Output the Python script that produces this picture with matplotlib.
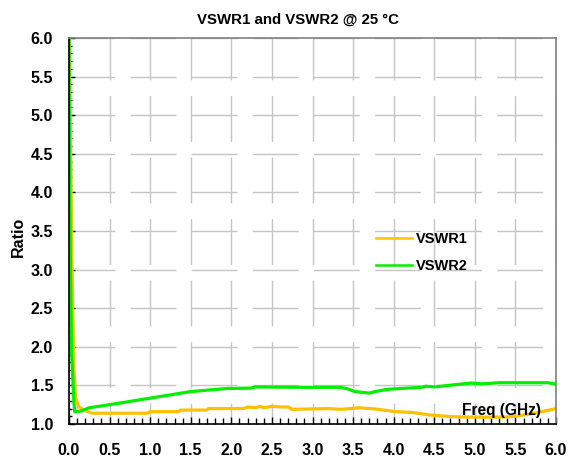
import matplotlib
matplotlib.use('Agg')
import matplotlib.pyplot as plt
from matplotlib.ticker import MultipleLocator
from matplotlib.lines import Line2D

plt.rcParams['font.family'] = ['Liberation Sans', 'DejaVu Sans']
plt.rcParams['font.weight'] = 'bold'
plt.rcParams['lines.scale_dashes'] = False

# VSWR1 (orange)
freq1 = [0.0, 0.02, 0.04, 0.06, 0.08, 0.12, 0.23, 0.29, 0.5, 0.97, 1.0, 1.35, 1.37,
         1.7, 1.72, 2.15, 2.2, 2.3, 2.35, 2.4, 2.45, 2.5, 2.6, 2.7, 2.75, 3.2,
         3.35, 3.58, 3.77, 4.02, 4.22, 4.46, 4.72, 4.95, 5.35, 5.5, 5.74, 6.0]
vswr1 = [6.0, 4.55, 2.83, 1.74, 1.35, 1.22, 1.16, 1.14, 1.14, 1.14, 1.16, 1.16, 1.18,
         1.18, 1.20, 1.20, 1.22, 1.21, 1.23, 1.21, 1.22, 1.23, 1.22, 1.22, 1.19, 1.20,
         1.19, 1.21, 1.195, 1.16, 1.15, 1.115, 1.095, 1.09, 1.09, 1.10, 1.14, 1.20]

# VSWR2 (green)
freq2 = [0.0, 0.01, 0.03, 0.05, 0.06, 0.07, 0.12, 0.25, 0.62, 0.97, 1.5, 1.95, 2.24,
         2.3, 2.94, 3.35, 3.45, 3.52, 3.7, 3.77, 3.93, 4.34, 4.4, 4.5, 4.72, 4.95,
         5.1, 5.3, 5.9, 6.0]
vswr2 = [6.0, 3.81, 1.96, 1.53, 1.29, 1.16, 1.16, 1.21, 1.27, 1.33, 1.42, 1.46, 1.465,
         1.48, 1.475, 1.475, 1.45, 1.42, 1.40, 1.42, 1.45, 1.475, 1.49, 1.48, 1.505, 1.53,
         1.52, 1.535, 1.535, 1.515]

c1 = '#FFC000'
c2 = '#00F000'

fig = plt.figure(figsize=(5.70, 4.59), dpi=100)
ax = fig.add_axes([69 / 570, 1 - 424 / 459, 487 / 570, 386 / 459])

# grid (long dashes, like the original)
ax.set_axisbelow(True)
ax.yaxis.grid(True, color='#c4c4c4', linewidth=1.0, linestyle=(0, (33, 11)))
ax.xaxis.grid(True, color='#c4c4c4', linewidth=1.0, linestyle=(18, (33, 11.3)))

ax.plot(freq1, vswr1, color=c1, linewidth=2.3, solid_joinstyle='miter')
ax.plot(freq2, vswr2, color=c2, linewidth=2.3, solid_joinstyle='miter')

ax.set_xlim(0, 6)
ax.set_ylim(1, 6)
ax.xaxis.set_major_locator(MultipleLocator(0.5))
ax.xaxis.set_minor_locator(MultipleLocator(0.1))
ax.yaxis.set_major_locator(MultipleLocator(0.5))
ax.yaxis.set_minor_locator(MultipleLocator(0.1))
ax.xaxis.set_major_formatter(lambda v, p: f'{v:.1f}')
ax.yaxis.set_major_formatter(lambda v, p: f'{v:.1f}')

ax.tick_params(axis='x', which='major', direction='in', length=5, width=1, pad=14, labelsize=11.5)
ax.tick_params(axis='x', which='minor', direction='in', length=4, width=1)
ax.tick_params(axis='y', which='major', direction='in', length=4, width=1, pad=11.5, labelsize=11.5)
ax.tick_params(axis='y', which='minor', direction='in', length=2.5, width=1)
ax.tick_params(which='both', top=False, right=False)

for s in ['top', 'right']:
    ax.spines[s].set_color('#808080')
    ax.spines[s].set_linewidth(1.2)
for s in ['left', 'bottom']:
    ax.spines[s].set_color('black')
    ax.spines[s].set_linewidth(1.2)

ax.text(5.81, 1.18, 'Freq (GHz)', ha='right', va='center', fontsize=11.2, fontweight='bold')

fig.text(298 / 570, 1 - 20 / 459, 'VSWR1 and VSWR2 @ 25 °C', ha='center', va='center',
         fontsize=10.8, fontweight='bold')
fig.text(18 / 570, 1 - 237 / 459, 'Ratio', rotation=90, ha='center', va='center',
         fontsize=11.5, fontweight='bold')

handles = [Line2D([], [], color=c1, linewidth=1.8), Line2D([], [], color=c2, linewidth=1.8)]
ax.legend(handles, ['VSWR1', 'VSWR2'], loc='upper left', bbox_to_anchor=(0.630, 0.497),
          frameon=False, fontsize=10.5, handlelength=2.5, handletextpad=0.25,
          labelspacing=0.88, borderpad=0, borderaxespad=0)

fig.savefig('out.png', dpi=100)
